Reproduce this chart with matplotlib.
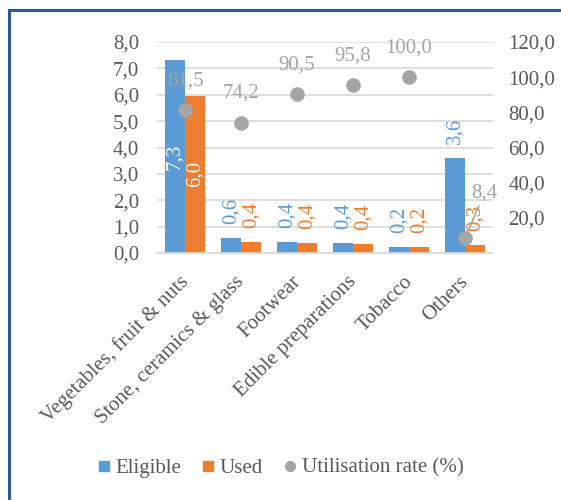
import matplotlib
matplotlib.use("Agg")
import matplotlib.pyplot as plt
import matplotlib.transforms as mtransforms
import numpy as np
from matplotlib.lines import Line2D

categories = ["Vegetables, fruit & nuts", "Stone, ceramics & glass", "Footwear",
              "Edible preparations", "Tobacco", "Others"]
eligible = [7.3, 0.57, 0.42, 0.37, 0.23, 3.6]
used = [5.96, 0.43, 0.38, 0.36, 0.23, 0.3]
utilisation = [81.5, 74.2, 90.5, 95.8, 100.0, 8.4]

BLUE = "#5B9BD5"
ORANGE = "#ED7D31"
GRAY = "#A5A5A5"
TXT = "#595959"

plt.rcParams["font.family"] = ["Liberation Serif", "DejaVu Serif"]
plt.rcParams["font.size"] = 15


def fmt(v):
    return f"{v:.1f}".replace(".", ",")


fig = plt.figure(figsize=(5.61, 5.0), dpi=100)
ax = fig.add_axes([0.280, 0.494, 0.599, 0.422])
ax2 = ax.twinx()

x = np.arange(len(categories))
w = 0.357
b1 = ax.bar(x - w / 2, eligible, w, color=BLUE, zorder=2)
b2 = ax.bar(x + w / 2, used, w, color=ORANGE, zorder=2)

for bars, vals, col in ((b1, eligible, BLUE), (b2, used, ORANGE)):
    for rect, v in zip(bars, vals):
        cx = rect.get_x() + rect.get_width() / 2
        if v > 5:
            ax.text(cx, v / 2, fmt(v), rotation=90, ha="center", va="center",
                    color="white", zorder=4)
        else:
            ax.annotate(fmt(v), (cx, v), xytext=(0, 14), textcoords="offset pixels",
                        rotation=90, ha="center", va="bottom", color=col, zorder=4)

ax.set_xlim(-0.5, len(categories) - 0.5)
ax.set_ylim(0, 8)
ax.set_yticks(np.arange(0, 9, 1))
ax.yaxis.set_major_formatter(plt.FuncFormatter(lambda v, p: fmt(v)))
ax.grid(axis="y", color="#D9D9D9", linewidth=1.2, zorder=0)
ax.set_axisbelow(True)
ax.set_xticks(x)
ax.set_xticklabels(categories, rotation=45, ha="right", rotation_mode="anchor")
ax.tick_params(axis="both", length=0, colors=TXT, labelsize=15)
ax.tick_params(axis="y", pad=13)
ax.tick_params(axis="x", pad=8)
shift = mtransforms.ScaledTranslation(-0.06, -0.08, fig.dpi_scale_trans)
for lbl in ax.get_xticklabels():
    lbl.set_transform(lbl.get_transform() + shift)
for s in ("top", "left", "right"):
    ax.spines[s].set_visible(False)
ax.spines["bottom"].set_color("#D9D9D9")
ax.spines["bottom"].set_linewidth(1.2)

ax2.scatter(x, utilisation, s=9.5 ** 2, color=GRAY, zorder=5, clip_on=False)
ax2.set_ylim(0, 120)
ax2.set_yticks(np.arange(20, 121, 20))
ax2.yaxis.set_major_formatter(plt.FuncFormatter(lambda v, p: fmt(v)))
ax2.tick_params(axis="y", length=0, colors=TXT, labelsize=15, pad=11)
for s in ax2.spines.values():
    s.set_visible(False)

for xi, u in zip(x, utilisation):
    if u < 20:
        ax2.annotate(fmt(u), (xi, u), xytext=(19, 45), textcoords="offset pixels",
                     ha="center", va="center", color=GRAY,
                     arrowprops=dict(arrowstyle="-", color=GRAY, lw=1.2,
                                     shrinkA=0, shrinkB=0))
    else:
        ax2.annotate(fmt(u), (xi, u), xytext=(0, 29), textcoords="offset pixels",
                     ha="center", va="center", color=GRAY)

handles = [
    Line2D([], [], marker="s", linestyle="", color=BLUE, markersize=7),
    Line2D([], [], marker="s", linestyle="", color=ORANGE, markersize=7),
    Line2D([], [], marker="o", linestyle="", color=GRAY, markersize=7),
]
leg = fig.legend(handles, ["Eligible", "Used", "Utilisation rate (%)"],
                 loc="center", bbox_to_anchor=(0.5, 0.064), ncol=3, frameon=False,
                 handlelength=0.6, handletextpad=0.25, columnspacing=1.0,
                 fontsize=15)
for t in leg.get_texts():
    t.set_color(TXT)

border = "#2F5597"
fig.add_artist(Line2D([9 / 561, 9 / 561], [0, 0.981], transform=fig.transFigure,
                      color=border, linewidth=2.2, solid_capstyle="projecting"))
fig.add_artist(Line2D([9 / 561, 1], [0.981, 0.981], transform=fig.transFigure,
                      color=border, linewidth=2.2, solid_capstyle="projecting"))

fig.savefig("out.png", dpi=100)
